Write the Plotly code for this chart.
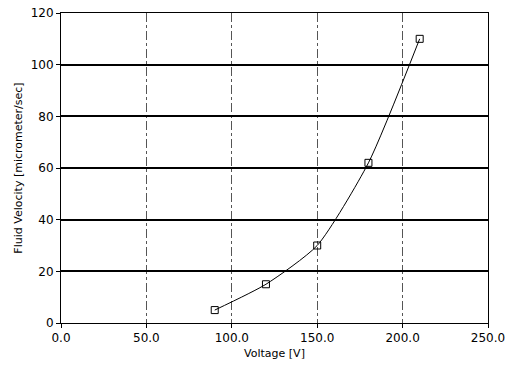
import plotly.graph_objects as go

voltage = [90, 120, 150, 180, 210]
velocity = [5, 15, 30, 62, 110]
x_ticks = [0, 50, 100, 150, 200, 250]
x_tick_labels = ["0.0", "50.0", "100.0", "150.0", "200.0", "250.0"]
y_ticks = [0, 20, 40, 60, 80, 100, 120]

fig = go.Figure()
fig.add_trace(go.Scatter(
    x=voltage, y=velocity, mode="lines+markers",
    line=dict(color="black", width=1, shape="spline", smoothing=0.6),
    marker=dict(symbol="square-open", size=7, color="black", line=dict(width=1)),
    showlegend=False,
))

fnt = dict(family="DejaVu Sans, sans-serif", size=12, color="black")
fig.update_layout(
    width=507, height=368,
    margin=dict(l=61, r=19, t=13, b=45),
    paper_bgcolor="white", plot_bgcolor="white",
    font=fnt,
    xaxis=dict(
        range=[0, 250], tickvals=x_ticks, ticktext=x_tick_labels,
        showgrid=True, gridcolor="#555555", griddash="dashdot", gridwidth=1,
        showline=True, linecolor="black", linewidth=1, mirror=True,
        ticks="outside", ticklen=4, tickcolor="black",
        zeroline=False, automargin=False,
        title=dict(text="Voltage [V]", font=dict(size=11), standoff=4),
        tickfont=dict(size=12),
    ),
    yaxis=dict(
        range=[0, 120], tickvals=y_ticks,
        showgrid=True, gridcolor="black", gridwidth=1.5,
        showline=True, linecolor="black", linewidth=1, mirror=True,
        ticks="outside", ticklen=4, tickcolor="black",
        zeroline=False, automargin=False,
        title=dict(text="Fluid Velocity [micrometer/sec]", font=dict(size=11), standoff=5),
        tickfont=dict(size=12),
    ),
)
fig.write_html("out.html", config={"displayModeBar": False},
               post_script="document.body.style.margin='0';document.body.style.overflow='hidden';")
